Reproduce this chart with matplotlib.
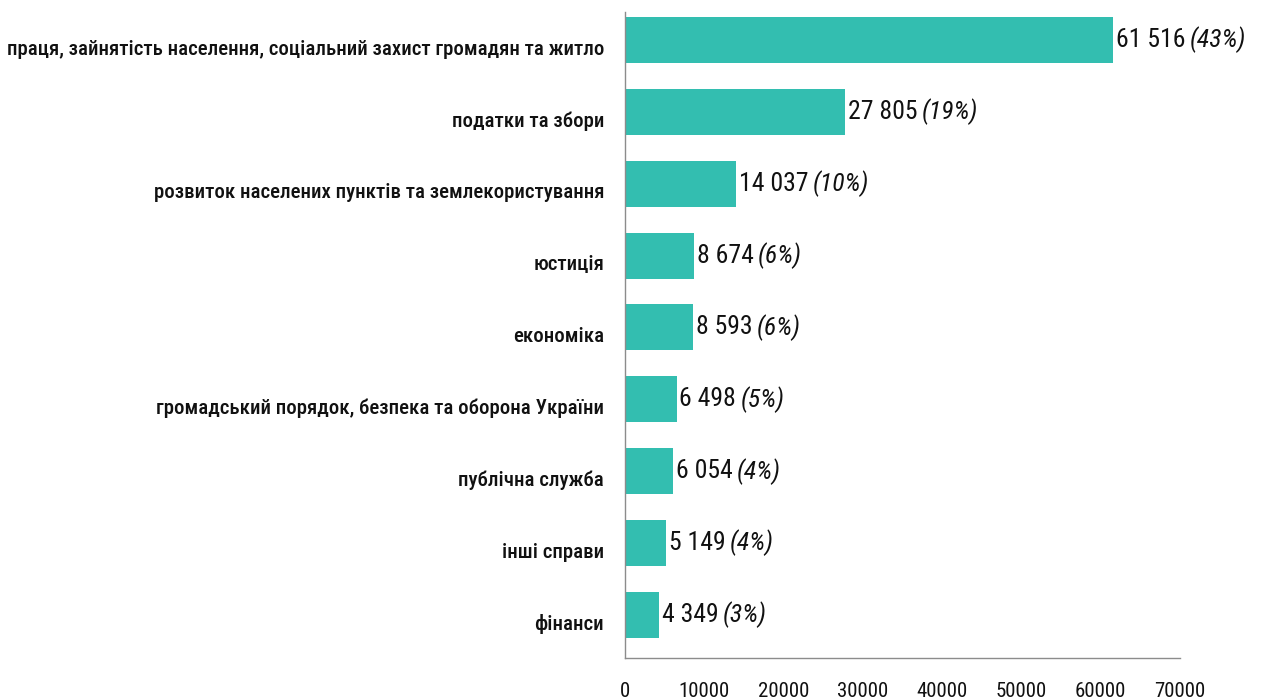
import matplotlib
matplotlib.use("Agg")
import matplotlib.pyplot as plt
import matplotlib.transforms as mtransforms
from matplotlib import font_manager

# данные
categories = [
    "праця, зайнятість населення, соціальний захист громадян та житло",
    "податки та збори",
    "розвиток населених пунктів та землекористування",
    "юстиція",
    "економіка",
    "громадський порядок, безпека та оборона України",
    "публічна служба",
    "інші справи",
    "фінанси",
]
values = [61516, 27805, 14037, 8674, 8593, 6498, 6054, 5149, 4349]
shares = ["43%", "19%", "10%", "6%", "6%", "5%", "4%", "4%", "3%"]
xticks = [0, 10000, 20000, 30000, 40000, 50000, 60000, 70000]

# узкий шрифт с кириллицей, если есть
names = {f.name for f in font_manager.fontManager.ttflist}
prefs = ["Roboto Condensed", "PT Sans Narrow", "Fira Sans Condensed",
         "IBM Plex Sans Condensed", "Open Sans Condensed", "Ubuntu Condensed",
         "Liberation Sans Narrow", "Roboto"]
narrow = next(p for p in prefs if p in names)
plt.rcParams['font.family'] = [narrow, 'DejaVu Sans']

fig = plt.figure(figsize=(12.61, 7), dpi=100)
ax = fig.add_axes([625 / 1261, 1 - 658 / 700, 555 / 1261, 646 / 700])

y = list(range(len(categories)))
ax.barh(y, values, height=0.64, color="#33BEB0")

for yi, v, s in zip(y, values, shares):
    num = f"{v:,}".replace(",", " ")
    t = ax.annotate(num, (v, yi), xytext=(2, 0), textcoords="offset points",
                    va="center", ha="left", fontsize=18.5, color="#111111")
    ax.annotate(f"({s})", (1, 0.5), xycoords=t, xytext=(3, 0),
                textcoords="offset points", va="center", ha="left",
                fontsize=18.5, style="italic", color="#111111")

ax.set_xlim(0, 70000)
ax.set_ylim(8.6, -0.39)
ax.set_yticks(y)
ax.set_yticklabels(categories, fontsize=15, fontweight="medium", color="#111111")
ax.set_xticks(xticks)
ax.set_xticklabels([str(x) for x in xticks], fontsize=15, color="#111111")
ax.tick_params(axis="both", length=0)
ax.tick_params(axis="y", pad=15)
ax.tick_params(axis="x", pad=17)

# подписи категорий чуть ниже центра столбца
shift = mtransforms.ScaledTranslation(0, -7 / 100, fig.dpi_scale_trans)
for lab in ax.get_yticklabels():
    lab.set_transform(lab.get_transform() + shift)

for side in ("top", "right"):
    ax.spines[side].set_visible(False)
for side in ("left", "bottom"):
    ax.spines[side].set_color("#8c8c8c")
    ax.spines[side].set_linewidth(1.0)

fig.savefig("out.png", dpi=100)
